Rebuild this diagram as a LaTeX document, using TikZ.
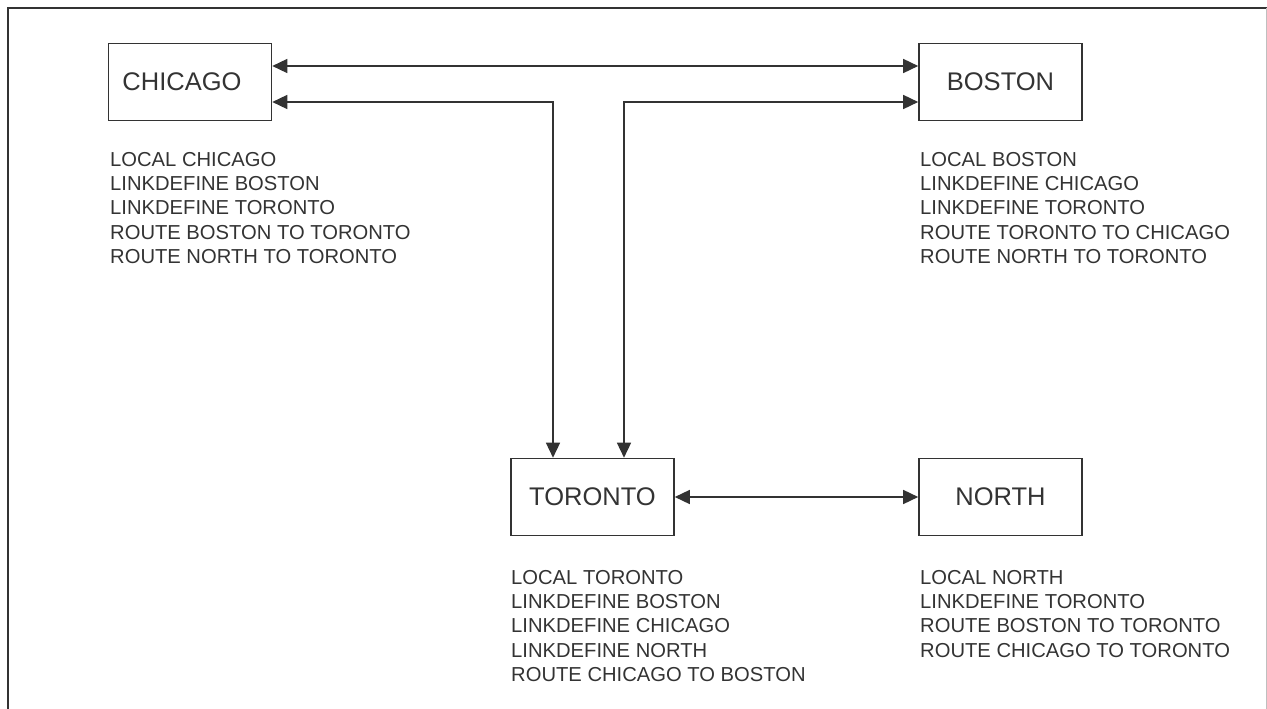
\documentclass[tikz,border=0pt]{standalone}
\usepackage{fontspec}
\setmainfont{Liberation Sans}
\usetikzlibrary{arrows.meta}
\definecolor{ink}{HTML}{333333}
\begin{document}
\begin{tikzpicture}[x=1pt,y=-1pt,
  city/.style={draw=ink,line width=1.6pt,minimum width=163pt,minimum height=77pt,inner sep=0pt,
    font=\fontsize{25.5}{30}\selectfont,text=ink},
  cfg/.style={anchor=north west,inner sep=0pt,align=left,text=ink,
    font=\fontsize{20.2}{24.3}\selectfont},
  link/.style={draw=ink,line width=1.5pt,{Triangle[length=15pt,width=14pt]}-{Triangle[length=15pt,width=14pt]}}]
\useasboundingbox (0,0) rectangle (1267,709);
% frame
\draw[ink,line width=1.8pt] (8,709) -- (8,8) -- (1267,8);
\draw[gray!50,line width=1pt] (1266,8) -- (1266,709);
% cities
\node[city] (chicago) at (190,82) {\hspace*{-16pt}CHICAGO};
\node[city] (boston) at (1000.5,82) {BOSTON};
\node[city] (toronto) at (592.5,497) {TORONTO};
\node[city] (north) at (1000.5,497) {NORTH};
% connectors
\draw[link] ([yshift=16pt]chicago.east) -- ([yshift=16pt]boston.west);
\draw[link] ([yshift=-20pt]chicago.east) -| ([xshift=-39.5pt]toronto.north);
\draw[link] ([yshift=-20pt]boston.west) -| ([xshift=31.5pt]toronto.north);
\draw[link] (toronto.east) -- (north.west);
% configuration texts
\node[cfg] (tchicago) at (110,152) {LOCAL CHICAGO\\LINKDEFINE BOSTON\\LINKDEFINE TORONTO\\ROUTE BOSTON TO TORONTO\\ROUTE NORTH TO TORONTO};
\node[cfg] (tboston) at (920,152) {LOCAL BOSTON\\LINKDEFINE CHICAGO\\LINKDEFINE TORONTO\\ROUTE TORONTO TO CHICAGO\\ROUTE NORTH TO TORONTO};
\node[cfg] (ttoronto) at (511,570) {LOCAL TORONTO\\LINKDEFINE BOSTON\\LINKDEFINE CHICAGO\\LINKDEFINE NORTH\\ROUTE CHICAGO TO BOSTON};
\node[cfg] (tnorth) at (920,570) {LOCAL NORTH\\LINKDEFINE TORONTO\\ROUTE BOSTON TO TORONTO\\ROUTE CHICAGO TO TORONTO};
\end{tikzpicture}
\end{document}
